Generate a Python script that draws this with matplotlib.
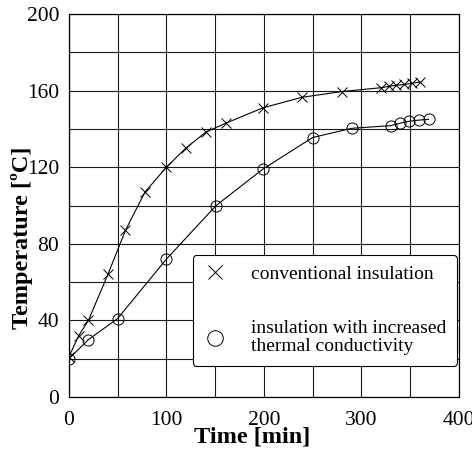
import numpy as np
import matplotlib
matplotlib.use("Agg")
import matplotlib.pyplot as plt
from matplotlib.ticker import MultipleLocator

plt.rcParams['font.family'] = ['Liberation Serif', 'DejaVu Serif']

# conventional insulation (x markers)
t_conv = [0, 10, 20, 40, 58, 78, 100, 120, 141, 161, 199, 239, 280, 320, 328, 336, 344, 352, 360]
T_conv = [21, 32, 40, 64, 87, 107, 120, 130, 138.5, 143, 151, 156.5, 159.5, 161.5, 162.2, 162.8, 163.2, 163.8, 164.5]

# insulation with increased thermal conductivity (o markers)
t_inc = [0, 20, 50, 100, 151, 199, 250, 290, 330, 340, 349, 359, 369]
T_inc = [20, 30, 41, 72, 100, 119, 135.5, 140.3, 141.7, 143, 144, 144.6, 145]

labels = ['conventional insulation', 'insulation with increased\nthermal conductivity']

fig = plt.figure(figsize=(4.72, 4.59), dpi=100)
ax = fig.add_axes([0.146, 0.135, 0.826, 0.8345])

ax.plot(t_conv, T_conv, color='black', lw=0.8)
ax.plot(t_inc, T_inc, color='black', lw=0.8)
ax.plot(t_conv, T_conv, ls='none', marker='x', ms=7, mew=0.7, color='black', label=labels[0])
ax.plot(t_inc, T_inc, ls='none', marker='o', ms=8, mew=0.7, mfc='none', mec='black', label=labels[1])

ax.set_xlim(0, 400)
ax.set_ylim(0, 200)
ax.xaxis.set_major_locator(MultipleLocator(100))
ax.xaxis.set_minor_locator(MultipleLocator(50))
ax.yaxis.set_major_locator(MultipleLocator(40))
ax.yaxis.set_minor_locator(MultipleLocator(20))
ax.grid(which='both', color='0.1', lw=0.8)
ax.set_axisbelow(True)
ax.tick_params(which='both', length=0, labelsize=15.5)
ax.tick_params(axis='x', pad=10)
ax.tick_params(axis='y', pad=7)
for s in ax.spines.values():
    s.set_linewidth(0.9)

ax.set_xlabel('Time [min]', fontsize=17.5, fontweight='bold')
ax.set_ylabel('Temperature [ºC]', fontsize=17.5, fontweight='bold')
ax.xaxis.set_label_coords(0.47, -0.078)
ax.yaxis.set_label_coords(-0.092, 0.415)

leg = ax.legend(loc='upper left', bbox_to_anchor=(0.317, 0.371), fontsize=14,
                fancybox=True, framealpha=1, edgecolor='black', markerscale=1.4,
                handlelength=1.25, handletextpad=1.2, borderpad=0.55, labelspacing=1.9,
                borderaxespad=0)
leg.get_frame().set_linewidth(0.8)
for txt in leg.get_texts():
    txt.set_linespacing(1.1)

fig.savefig('out.png', dpi=100)
